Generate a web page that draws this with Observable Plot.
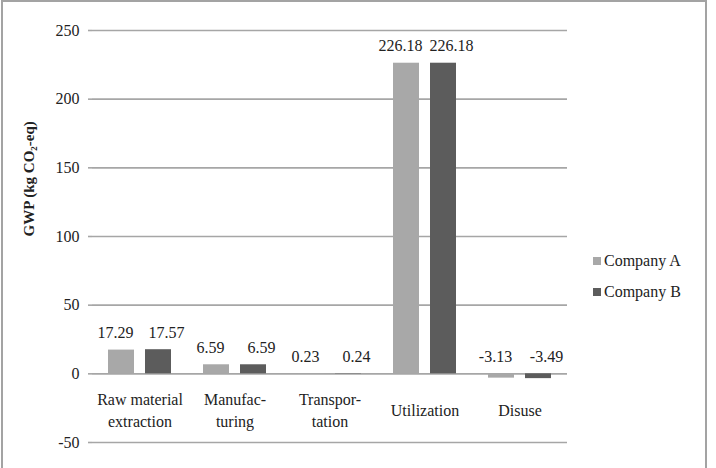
<!DOCTYPE html>
<html>
<head>
<meta charset="utf-8">
<script src="https://cdn.jsdelivr.net/npm/d3@7"></script>
<script src="https://cdn.jsdelivr.net/npm/@observablehq/plot@0.6"></script>
<style>
  html, body { margin: 0; padding: 0; background: #fff; }
  #wrap { position: relative; width: 716px; height: 468px; overflow: hidden; font-family: "Liberation Serif", "Times New Roman", Times, serif; }
  #border { position: absolute; left: 1px; top: 0px; width: 706px; height: 475px; border: 2px solid #a3a3a3; box-sizing: border-box; pointer-events: none; }
  #chart { position: absolute; left: 0; top: 0; }
  #legend { position: absolute; left: 593px; top: 245px; font-size: 16px; color: #222; font-family: "Liberation Serif", "Times New Roman", Times, serif; }
  .item { display: flex; align-items: center; height: 31px; }
  .sw { width: 8px; height: 8px; margin-right: 3px; }
  #chart svg text { font-family: "Liberation Serif", "Times New Roman", Times, serif; }
</style>
</head>
<body>
<div id="wrap">
  <div id="chart"></div>
  <div id="legend"></div>
  <div id="border"></div>
</div>
<script>
const categories = ["Raw material extraction", "Manufacturing", "Transportation", "Utilization", "Disuse"];
const categoryLabels = ["Raw material\nextraction", "Manufac-\nturing", "Transpor-\ntation", "Utilization", "Disuse"];
const companies = ["Company A", "Company B"];
const companyA = [17.29, 6.59, 0.23, 226.18, -3.13];
const companyB = [17.57, 6.59, 0.24, 226.18, -3.49];
const yTicks = [-50, 0, 50, 100, 150, 200, 250];
const yTitle = "GWP (kg CO\u2082-eq)";
const colors = ["#a8a8a8", "#5c5c5c"];

const rows = [];
categories.forEach((c, i) => {
  rows.push({category: c, company: companies[0], value: companyA[i]});
  rows.push({category: c, company: companies[1], value: companyB[i]});
});
const catRows = categories.map((c, i) => ({category: c, label: categoryLabels[i]}));

const grid = "#a6a6a6";
const textColor = "#222";
const font = "'Liberation Serif', 'Times New Roman', Times, serif";

const labelOpts = (dx) => ({fx: "category", x: "company", y: d => Math.max(d.value, 0), text: d => d.value.toFixed(2), dy: -17, dx, fontSize: 16, fill: textColor, fontFamily: font});

const chart = Plot.plot({
  width: 716,
  height: 468,
  marginLeft: 90,
  marginRight: 148,
  marginTop: 30,
  marginBottom: 26,
  style: {fontFamily: font, fontSize: "16px", color: textColor, background: "transparent", overflow: "visible"},
  fx: {domain: categories, padding: 0, axis: null},
  x: {domain: companies, paddingInner: 0.3, paddingOuter: 0.43, axis: null},
  y: {domain: [-50, 250], ticks: yTicks, axis: null},
  color: {domain: companies, range: colors},
  marks: [
    Plot.gridY(yTicks, {stroke: grid, strokeOpacity: 1, strokeWidth: 1.6}),
    Plot.axisY(yTicks, {anchor: "left", tickSize: 4, tickPadding: 9, tickFormat: d => String(d), stroke: grid, strokeWidth: 1.6, label: null, fontSize: 16, fill: textColor, fontFamily: font}),
    Plot.ruleX([categories[0]].map(c => ({category: c})), {fx: "category", frameAnchor: "left", stroke: grid, strokeWidth: 1.6}),
    Plot.barY(rows, {fx: "category", x: "company", y: "value", fill: "company"}),
    Plot.text(rows.filter(d => d.company === companies[0]), labelOpts(-6)),
    Plot.text(rows.filter(d => d.company === companies[1]), labelOpts(8)),
    Plot.text(catRows, {fx: "category", y: 0, text: "label", dy: 35, lineAnchor: "middle", lineHeight: 1.375, fontSize: 16, fill: textColor, fontFamily: font}),
    Plot.text([{category: categories[0], t: yTitle}], {fx: "category", text: "t", frameAnchor: "left", dx: -63, rotate: -90, fontWeight: "bold", fontSize: 15, fill: textColor, fontFamily: font})
  ]
});
document.getElementById("chart").appendChild(chart);

const legend = document.getElementById("legend");
companies.forEach((c, i) => {
  const item = document.createElement("div");
  item.className = "item";
  const sw = document.createElement("div");
  sw.className = "sw";
  sw.style.background = colors[i];
  const label = document.createElement("span");
  label.textContent = c;
  item.appendChild(sw);
  item.appendChild(label);
  legend.appendChild(item);
});
</script>
</body>
</html>
